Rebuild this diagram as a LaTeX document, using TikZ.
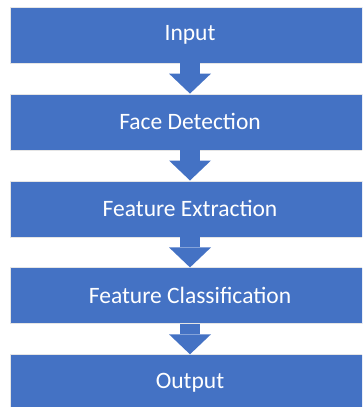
\documentclass[tikz,border=0pt]{standalone}
\usepackage{fontspec}
\setmainfont{Carlito}
\usetikzlibrary{positioning, arrows.meta}
\definecolor{boxblue}{HTML}{4472C4}

\begin{document}
\begin{tikzpicture}[node distance=30.3pt]
\tikzstyle{stage} = [rectangle, minimum width=360pt, minimum height=56pt,
    text centered, draw=gray!20, line width=0.6pt, fill=boxblue,
    text=white, font=\fontsize{23.5}{28}\selectfont, inner sep=0pt]
\tikzstyle{blockarrow} = [draw=boxblue, line width=20pt,
    -{Triangle[width=42pt,length=20pt,line width=0pt]}]

\path[use as bounding box, clip] (0pt,0pt) rectangle (362pt,-407pt);

\node (input) [stage] at (190pt,-35pt) {Input};
\node (face) [stage, below=of input] {Face Detection};
\node (extract) [stage, below=of face] {Feature Extraction};
\node (classify) [stage, below=of extract] {Feature Classification};
\node (output) [stage, below=of classify] {Output};

% --- block arrows between stages ---
\draw [blockarrow] (input) -- (face);
\draw [blockarrow] (face) -- (extract);
\draw [blockarrow] (extract) -- (classify);
\draw [blockarrow] (classify) -- (output);
\end{tikzpicture}
\end{document}
